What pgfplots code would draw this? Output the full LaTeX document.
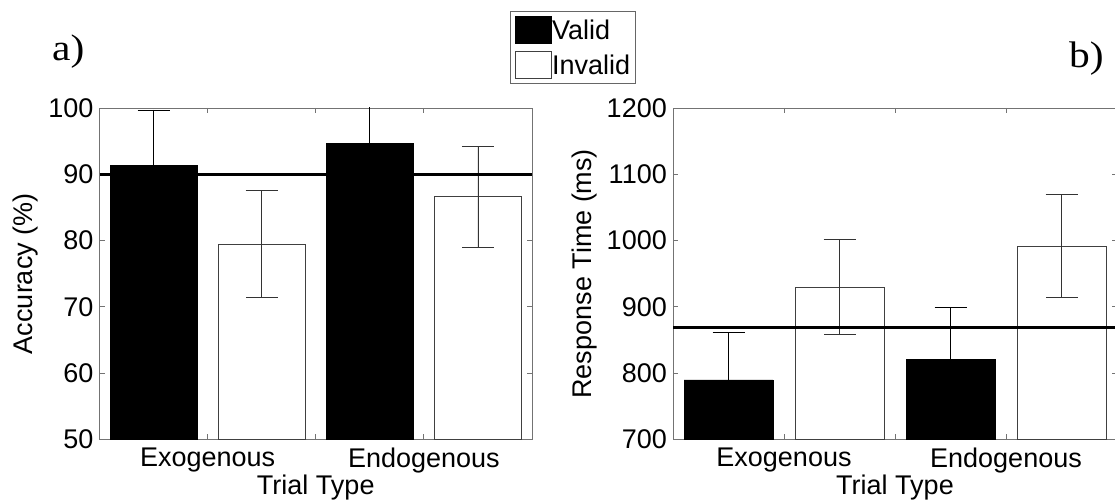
\documentclass[border=0pt]{standalone}
\usepackage{fontspec}
\setmainfont{Liberation Sans}
\newfontfamily\labfont{Liberation Serif}[FakeStretch=1.12]
\usepackage{pgfplots}
\pgfplotsset{compat=1.18}

\newcommand\fs{\fontsize{27bp}{30bp}\selectfont}

\pgfplotsset{
  panel/.style={
    scale only axis,
    height=331.5bp,
    xmin=0.5, xmax=2.5,
    xtick={1,1.5,2},
    xticklabels={Exogenous,,Endogenous},
    tick align=inside,
    major tick length=5bp,
    axis line style={black!55, line width=0.8bp},
    every tick/.style={black!55, line width=0.8bp},
    font=\fs,
    /pgf/number format/assume math mode=true,
    /pgf/number format/1000 sep={},
    yticklabel style={inner sep=0pt, xshift=-6bp},
    xticklabel style={inner sep=0pt, yshift=-8.5bp},
    xlabel={Trial Type},
    xlabel style={at={(axis description cs:0.5,0)}, anchor=base, yshift=-54.5bp},
    clip=true,
  },
  validbar/.style={ybar, bar width=0.4, bar shift=0pt, fill=black, draw=black,
    error bars/.cd, y dir=both, y explicit,
    error bar style={black, line width=0.8bp},
    error mark options={rotate=90, mark size=16bp, black, line width=0.8bp}},
  invalidbar/.style={ybar, bar width=0.4, bar shift=0pt, fill=white, draw=black!75, line width=0.8bp,
    error bars/.cd, y dir=both, y explicit,
    error bar style={black!80, line width=0.8bp},
    error mark options={rotate=90, mark size=16bp, black!80, line width=0.8bp}},
}

\begin{document}
\begin{tikzpicture}
\useasboundingbox (0,0) rectangle (1115bp,502bp);

% a) accuracy
\begin{axis}[
  panel,
  at={(99.5bp,62.5bp)}, anchor=south west,
  width=432.5bp,
  ymin=50, ymax=100,
  ytick={50,60,...,100},
  ylabel={Accuracy (\%)},
  ylabel style={at={(axis description cs:-0.1538,0.5)}, rotate=0, anchor=base},
  legend cell align=left,
  legend image code/.code={\draw[#1, line width=0.8bp] (0bp,-13.5bp) rectangle (36bp,13.5bp);},
  legend style={at={(0.949,1.293)}, anchor=north west, draw=black!60, line width=0.8bp,
    inner sep=5bp, row sep=7bp, font=\fs, nodes={inner sep=0pt},
    /tikz/every even column/.append style={column sep=2bp}},
]
\addplot[validbar] coordinates {(0.75,91.4) +- (0,8.3) (1.75,94.7) +- (0,7.6)};
\addlegendentry{Valid}
\addplot[invalidbar] coordinates {(1.25,79.5) +- (0,8.0) (2.25,86.6) +- (0,7.6)};
\addlegendentry{Invalid}
\addplot[black, line width=3bp, forget plot] coordinates {(0.5,90) (2.5,90)};
\end{axis}

% b) response time
\begin{axis}[
  panel,
  at={(673bp,62.5bp)}, anchor=south west,
  width=444bp,
  ymin=700, ymax=1200,
  ytick={700,800,...,1200},
  ylabel={Response Time (ms)},
  ylabel style={at={(axis description cs:-0.1847,0.5)}, rotate=0, anchor=base},
]
\addplot[validbar] coordinates {(0.75,790) +- (0,72) (1.75,821) +- (0,78)};
\addplot[invalidbar] coordinates {(1.25,930) +- (0,72) (2.25,992) +- (0,78)};
\addplot[black, line width=3bp] coordinates {(0.5,869) (2.5,869)};
\end{axis}

\node[anchor=base west, inner sep=0pt, font=\labfont\fontsize{37bp}{40bp}\selectfont] at (52bp,441.5bp) {a)};
\node[anchor=base west, inner sep=0pt, font=\labfont\fontsize{37bp}{40bp}\selectfont] at (1069bp,434bp) {b)};
\end{tikzpicture}
\end{document}
